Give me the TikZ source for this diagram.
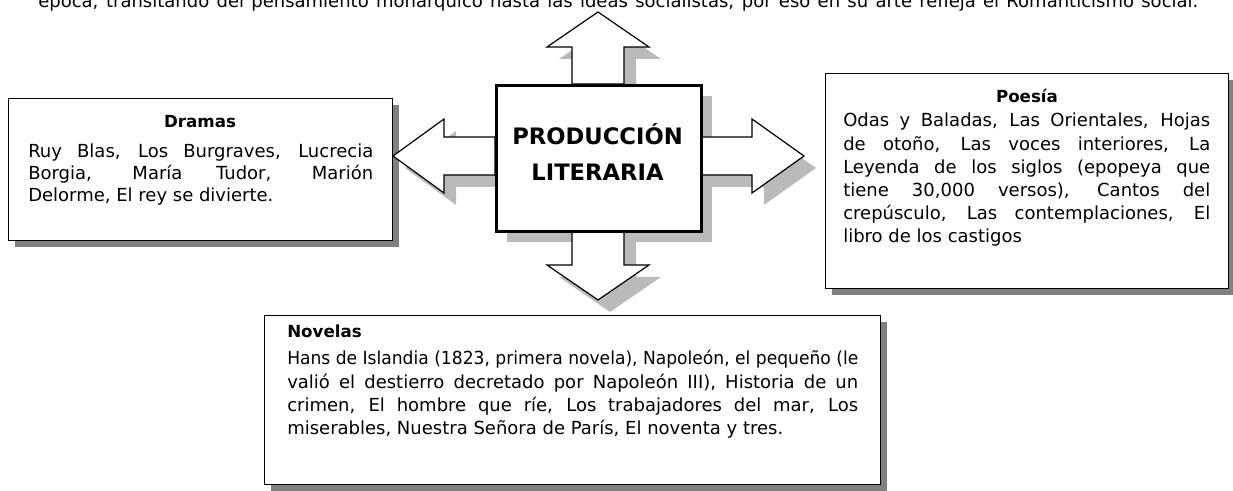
\documentclass[tikz,border=0pt]{standalone}
\usepackage{fontspec}
\usepackage{graphicx}
\setmainfont{DejaVu Sans}
\usetikzlibrary{shadows}
\newcommand\jline[2]{\setbox0=\hbox{#2}\ifdim\wd0>#1\relax\resizebox{#1}{\height}{#2}\else\makebox[#1][s]{#2}\fi}
\begin{document}
\begin{tikzpicture}[x=0.75pt,y=-0.75pt,
  txtbox/.style={draw=black,line width=1.1pt,fill=white,inner sep=0pt,anchor=north west,
    drop shadow={shadow xshift=4.5pt,shadow yshift=-4.5pt,fill=black!50,opacity=1}},
  centerbox/.style={draw=black,line width=2.4pt,fill=white,inner sep=0pt,anchor=north west},
  lightshadow/.style={fill=black!27,draw=none},
  arrowshape/.style={draw=black,line width=0.9pt,fill=white,line join=miter},
  body/.style={inner sep=0pt,anchor=base west,font=\fontsize{13.5}{16.5}\selectfont},
  boxtitle/.style={inner sep=0pt,anchor=base,font=\fontsize{12.5}{14}\selectfont\bfseries},
  bigtitle/.style={inner sep=0pt,anchor=base,font=\fontsize{17}{20}\selectfont\bfseries}]
\useasboundingbox (0,0) rectangle (1233,491);

% intro line (cut at top)
\node[body] (intro) at (38,8) {\jline{870pt}{época, transitando del pensamiento monárquico hasta las ideas socialistas, por eso en su arte refleja el Romanticismo social.}};

% text boxes
\node[txtbox,minimum width=288pt,minimum height=106.5pt] (dramas) at (8,98) {};
\node[txtbox,minimum width=302.25pt,minimum height=161.25pt] (poesia) at (825,73) {};
\node[txtbox,minimum width=462pt,minimum height=126.75pt] (novelas) at (264,315) {};

% light shadows of the central group
\fill[lightshadow] (507,96) rectangle (712,242);
\fill[lightshadow,shift={(12,12)}] (572,84) -- (572,47) -- (547,47) -- (598,12) -- (649,47) -- (624,47) -- (624,84) -- cycle;
\fill[lightshadow,shift={(12,12)}] (572,230) -- (572,265) -- (547,265) -- (598,300) -- (649,265) -- (624,265) -- (624,230) -- cycle;
\fill[lightshadow,shift={(12,12)}] (495,137) -- (444,137) -- (444,119) -- (393,156) -- (444,193) -- (444,175) -- (495,175) -- cycle;
\fill[lightshadow,shift={(12,12)}] (700,137) -- (752,137) -- (752,119) -- (804,156) -- (752,193) -- (752,175) -- (700,175) -- cycle;

% block arrows
\draw[arrowshape] (572,84) -- (572,47) -- (547,47) -- (598,12) -- (649,47) -- (624,47) -- (624,84) -- cycle;
\draw[arrowshape] (572,230) -- (572,265) -- (547,265) -- (598,300) -- (649,265) -- (624,265) -- (624,230) -- cycle;
\draw[arrowshape] (495,137) -- (444,137) -- (444,119) -- (393,156) -- (444,193) -- (444,175) -- (495,175) -- cycle;
\draw[arrowshape] (700,137) -- (752,137) -- (752,119) -- (804,156) -- (752,193) -- (752,175) -- (700,175) -- cycle;

% central box
\node[centerbox,minimum width=153.75pt,minimum height=109.5pt] (centro) at (495,84) {};
\node[bigtitle] (t1) at (597.5,145) {PRODUCCIÓN};
\node[bigtitle] (t2) at (597.5,181) {LITERARIA};

% Dramas
\node[boxtitle] (dramasT) at (200,128) {Dramas};
\node[body] (dramasB) at (28,158) {\parbox[t]{258.75pt}{\fontsize{13.5}{16.5}\selectfont
\jline{258.75pt}{Ruy Blas, Los Burgraves, Lucrecia}\\
\jline{258.75pt}{Borgia, María Tudor, Marión}\\
Delorme, El rey se divierte.}};

% Poesia
\node[boxtitle] (poesiaT) at (1027,103) {Poesía};
\node[body] (poesiaB) at (843,127) {\parbox[t]{275.25pt}{\fontsize{13.5}{17.4}\selectfont
\jline{275.25pt}{Odas y Baladas, Las Orientales, Hojas}\\
\jline{275.25pt}{de otoño, Las voces interiores, La}\\
\jline{275.25pt}{Leyenda de los siglos (epopeya que}\\
\jline{275.25pt}{tiene 30,000 versos), Cantos del}\\
\jline{275.25pt}{crepúsculo, Las contemplaciones, El}\\
libro de los castigos}};

% Novelas
\node[boxtitle,anchor=base west] (novelasT) at (287,338) {Novelas};
\node[body] (novelasB) at (287,365) {\parbox[t]{428.25pt}{\fontsize{13.5}{17.5}\selectfont
\jline{428.25pt}{Hans de Islandia (1823, primera novela), Napoleón, el pequeño (le}\\
\jline{428.25pt}{valió el destierro decretado por Napoleón III), Historia de un}\\
\jline{428.25pt}{crimen, El hombre que ríe, Los trabajadores del mar, Los}\\
miserables, Nuestra Señora de París, El noventa y tres.}};
\end{tikzpicture}
\end{document}
